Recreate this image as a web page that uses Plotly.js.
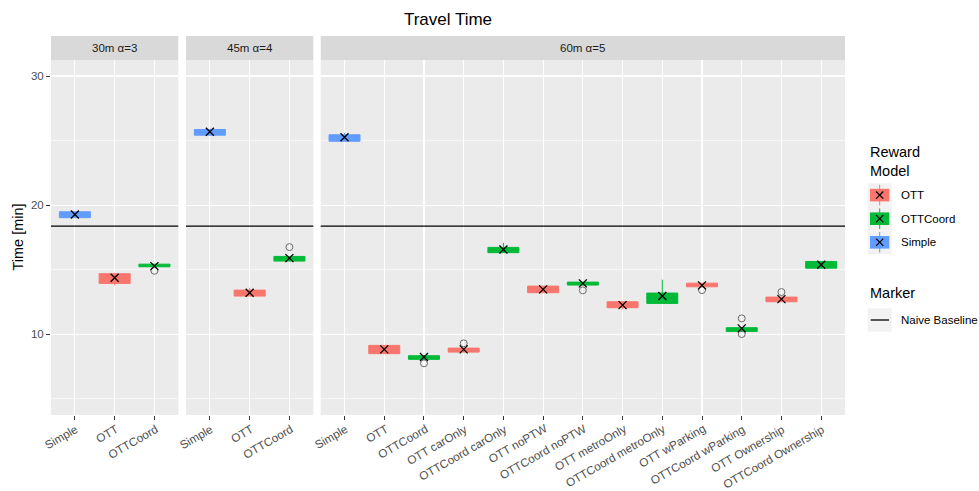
<!DOCTYPE html>
<html>
<head>
<meta charset="utf-8">
<script src="https://cdn.plot.ly/plotly-3.0.1.min.js"></script>
<style>
  html, body { margin: 0; padding: 0; background: #fff; }
  #chart { width: 979px; height: 491px; }
</style>
</head>
<body>
<div id="chart"></div>
<script>
// Facet labels and the categories shown in each facet
const facetLabels = ['30m α=3', '45m α=4', '60m α=5'];
const cats30 = ['Simple', 'OTT', 'OTTCoord'];
const cats45 = ['Simple', 'OTT', 'OTTCoord'];
const cats60 = ['Simple', 'OTT', 'OTTCoord', 'OTT carOnly', 'OTTCoord carOnly',
  'OTT noPTW', 'OTTCoord noPTW', 'OTT metroOnly', 'OTTCoord metroOnly',
  'OTT wParking', 'OTTCoord wParking', 'OTT Ownership', 'OTTCoord Ownership'];

// Box statistics (minutes), one entry per category
const lower30 = [19.03, 13.79, 15.23];
const q1_30   = [19.03, 13.94, 15.23];
const med30   = [19.28, 14.36, 15.30];
const q3_30   = [19.49, 14.69, 15.43];
const upper30 = [19.52, 14.77, 15.43];
const mean30  = [19.28, 14.38, 15.28];

const lower45 = [25.42, 12.96, 15.67];
const q1_45   = [25.42, 12.96, 15.67];
const med45   = [25.66, 13.20, 15.88];
const q3_45   = [25.86, 13.42, 16.03];
const upper45 = [25.92, 13.60, 16.03];
const mean45  = [25.68, 13.22, 15.90];

const lower60 = [24.95, 8.50, 8.06, 8.62, 16.32, 13.22, 13.81, 11.93, 12.39, 13.68, 10.22, 12.52, 15.12];
const q1_60   = [24.95, 8.50, 8.06, 8.62, 16.32, 13.22, 13.81, 12.06, 12.39, 13.68, 10.22, 12.52, 15.12];
const med60   = [25.24, 8.82, 8.22, 8.80, 16.55, 13.47, 13.93, 12.27, 12.90, 13.80, 10.40, 12.70, 15.38];
const q3_60   = [25.45, 9.14, 8.34, 8.93, 16.73, 13.73, 14.04, 12.52, 13.19, 13.96, 10.51, 12.88, 15.64];
const upper60 = [25.60, 9.14, 8.34, 8.93, 17.09, 13.73, 14.04, 12.52, 14.23, 13.96, 10.51, 12.88, 15.64];
const mean60  = [25.26, 8.83, 8.24, 8.83, 16.57, 13.48, 13.94, 12.26, 12.96, 13.79, 10.46, 12.72, 15.39];

// Outlying runs
const outX30 = ['OTTCoord'];
const outY30 = [14.92];
const outX45 = ['OTTCoord'];
const outY45 = [16.75];
const outX60 = ['OTTCoord', 'OTT carOnly', 'OTTCoord noPTW', 'OTT wParking',
  'OTTCoord wParking', 'OTTCoord wParking', 'OTT Ownership'];
const outY60 = [7.75, 9.30, 13.40, 13.42, 11.23, 10.02, 13.27];

// Naive baseline travel time
const naiveBaseline = 18.37;

const models = ['OTT', 'OTTCoord', 'Simple'];
const modelColors = { OTT: '#F8766D', OTTCoord: '#00BA38', Simple: '#619CFF' };

const FONT = 'Liberation Sans, Arial, sans-serif';
const W = 979, H = 491;
const px = x => x / W;
const py = y => 1 - y / H;

function modelOf(cat) {
  if (cat.startsWith('OTTCoord')) return 'OTTCoord';
  if (cat.startsWith('OTT')) return 'OTT';
  return 'Simple';
}

const facets = [
  { cats: cats30, lower: lower30, q1: q1_30, med: med30, q3: q3_30, upper: upper30, mean: mean30, ox: outX30, oy: outY30, xa: 'x', ya: 'y' },
  { cats: cats45, lower: lower45, q1: q1_45, med: med45, q3: q3_45, upper: upper45, mean: mean45, ox: outX45, oy: outY45, xa: 'x2', ya: 'y2' },
  { cats: cats60, lower: lower60, q1: q1_60, med: med60, q3: q3_60, upper: upper60, mean: mean60, ox: outX60, oy: outY60, xa: 'x3', ya: 'y3' }
];

const traces = [];
facets.forEach(f => {
  models.forEach(m => {
    const idx = f.cats.map((c, i) => i).filter(i => modelOf(f.cats[i]) === m);
    if (!idx.length) return;
    traces.push({
      type: 'box', xaxis: f.xa, yaxis: f.ya,
      x: idx.map(i => f.cats[i]),
      q1: idx.map(i => f.q1[i]),
      median: idx.map(i => f.med[i]),
      q3: idx.map(i => f.q3[i]),
      lowerfence: idx.map(i => f.lower[i]),
      upperfence: idx.map(i => f.upper[i]),
      boxpoints: false, width: 0.78, whiskerwidth: 0,
      fillcolor: modelColors[m],
      line: { color: modelColors[m], width: 1 },
      hoverinfo: 'skip', showlegend: false
    });
  });
  traces.push({
    type: 'scatter', mode: 'markers', xaxis: f.xa, yaxis: f.ya,
    x: f.ox, y: f.oy,
    marker: { symbol: 'circle-open', size: 7, color: '#6b6b6b', line: { width: 1 } },
    hoverinfo: 'skip', showlegend: false
  });
  traces.push({
    type: 'scatter', mode: 'markers', xaxis: f.xa, yaxis: f.ya,
    x: f.cats, y: f.mean,
    marker: { symbol: 'x-thin', size: 8, color: '#000', line: { width: 1.3, color: '#000' } },
    hoverinfo: 'skip', showlegend: false
  });
});

const yDomain = [py(415), py(60)];
const xDomains = [[px(51), px(178.3)], [px(186), px(313.3)], [px(320.7), px(845)]];

function xAxis(f, dom, anchor) {
  return {
    domain: dom, anchor: anchor, type: 'category',
    categoryorder: 'array', categoryarray: f.cats,
    range: [-0.6, f.cats.length - 0.4],
    showgrid: true, gridcolor: '#FFFFFF', gridwidth: 1.1,
    zeroline: false, showline: false,
    ticks: 'outside', ticklen: 4, tickwidth: 1, tickcolor: '#333333',
    showticklabels: false,
    automargin: false, fixedrange: true
  };
}
function yAxis(anchor, labels) {
  return {
    domain: yDomain, anchor: anchor,
    range: [3.75, 31.24], tick0: 0, dtick: 10,
    showgrid: true, gridcolor: '#FFFFFF', gridwidth: 1.1,
    minor: { tick0: 0, dtick: 5, showgrid: true, gridcolor: '#FFFFFF', gridwidth: 0.55 },
    zeroline: false, showline: false,
    ticks: labels ? 'outside' : '', ticklen: 4, tickwidth: 1, tickcolor: '#333333',
    showticklabels: labels,
    tickfont: { family: FONT, size: 11.5, color: '#4D4D4D' },
    automargin: false, fixedrange: true
  };
}

const shapes = [];
const annotations = [];

// Facet strips, slanted category labels and the naive baseline in each panel
facets.forEach((f, k) => {
  const xa = f.xa;
  shapes.push({
    type: 'rect', xref: xa + ' domain', yref: 'paper',
    x0: 0, x1: 1, y0: py(60), y1: py(36),
    fillcolor: '#D9D9D9', line: { width: 0 }, layer: 'below'
  });
  annotations.push({
    xref: xa + ' domain', yref: 'paper', x: 0.5, y: py(48),
    xanchor: 'center', yanchor: 'middle', showarrow: false,
    text: facetLabels[k], font: { family: FONT, size: 11.5, color: '#1A1A1A' }
  });
  shapes.push({
    type: 'line', xref: xa + ' domain', yref: f.ya,
    x0: 0, x1: 1, y0: naiveBaseline, y1: naiveBaseline,
    line: { color: '#000000', width: 1.3 }
  });
  f.cats.forEach(c => {
    annotations.push({
      xref: xa, yref: 'paper', x: c, y: py(419), xshift: 8,
      xanchor: 'right', yanchor: 'top', showarrow: false, textangle: -30,
      text: c, font: { family: FONT, size: 11.7, color: '#4D4D4D' }
    });
  });
});

// Y axis title
annotations.push({
  xref: 'paper', yref: 'paper', x: px(18), y: py(237.5),
  xanchor: 'center', yanchor: 'middle', showarrow: false, textangle: -90,
  text: 'Time [min]', font: { family: FONT, size: 14.5, color: '#000' }
});

// Legend: Reward Model
annotations.push({
  xref: 'paper', yref: 'paper', x: px(867.5), y: py(161),
  xanchor: 'left', yanchor: 'middle', showarrow: false, align: 'left',
  text: 'Reward<br>Model', font: { family: FONT, size: 14.5, color: '#000' }
});
const keyTop = 183.3, keyH = 23.6;
models.forEach((m, i) => {
  const t = keyTop + i * keyH, cy = t + keyH / 2, cx = 879.7;
  shapes.push({ type: 'rect', xref: 'paper', yref: 'paper',
    x0: px(867.7), x1: px(891.7), y0: py(t + keyH), y1: py(t),
    fillcolor: '#F2F2F2', line: { width: 0 } });
  shapes.push({ type: 'line', xref: 'paper', yref: 'paper',
    x0: px(cx), x1: px(cx), y0: py(t + 1.5), y1: py(t + keyH - 1.5),
    line: { color: modelColors[m], width: 1 } });
  shapes.push({ type: 'rect', xref: 'paper', yref: 'paper',
    x0: px(870), x1: px(889.3), y0: py(cy + 6.3), y1: py(cy - 6.3),
    fillcolor: modelColors[m], line: { width: 0 } });
  shapes.push({ type: 'line', xref: 'paper', yref: 'paper',
    x0: px(cx - 3.6), x1: px(cx + 3.6), y0: py(cy - 3.6), y1: py(cy + 3.6),
    line: { color: '#000', width: 1.2 } });
  shapes.push({ type: 'line', xref: 'paper', yref: 'paper',
    x0: px(cx - 3.6), x1: px(cx + 3.6), y0: py(cy + 3.6), y1: py(cy - 3.6),
    line: { color: '#000', width: 1.2 } });
  annotations.push({
    xref: 'paper', yref: 'paper', x: px(898.5), y: py(cy),
    xanchor: 'left', yanchor: 'middle', showarrow: false,
    text: m, font: { family: FONT, size: 11.5, color: '#000' }
  });
});

// Legend: Marker
annotations.push({
  xref: 'paper', yref: 'paper', x: px(867.5), y: py(293),
  xanchor: 'left', yanchor: 'middle', showarrow: false,
  text: 'Marker', font: { family: FONT, size: 14.5, color: '#000' }
});
shapes.push({ type: 'rect', xref: 'paper', yref: 'paper',
  x0: px(867.7), x1: px(891.7), y0: py(331.7), y1: py(308.3),
  fillcolor: '#F2F2F2', line: { width: 0 } });
shapes.push({ type: 'line', xref: 'paper', yref: 'paper',
  x0: px(870.7), x1: px(889), y0: py(320), y1: py(320),
  line: { color: '#000', width: 1.3 } });
annotations.push({
  xref: 'paper', yref: 'paper', x: px(898.5), y: py(320),
  xanchor: 'left', yanchor: 'middle', showarrow: false,
  text: 'Naive Baseline', font: { family: FONT, size: 11.5, color: '#000' }
});

const layout = {
  width: W, height: H,
  margin: { l: 0, r: 0, t: 0, b: 0 },
  paper_bgcolor: '#FFFFFF', plot_bgcolor: '#EBEBEB',
  font: { family: FONT },
  title: { text: 'Travel Time', x: px(448), xref: 'paper', xanchor: 'center',
    y: py(19), yref: 'container', yanchor: 'middle',
    font: { family: FONT, size: 17, color: '#000' } },
  boxmode: 'overlay',
  showlegend: false,
  xaxis: xAxis(facets[0], xDomains[0], 'y'),
  xaxis2: xAxis(facets[1], xDomains[1], 'y2'),
  xaxis3: xAxis(facets[2], xDomains[2], 'y3'),
  yaxis: yAxis('x', true),
  yaxis2: Object.assign(yAxis('x2', false), { matches: 'y' }),
  yaxis3: Object.assign(yAxis('x3', false), { matches: 'y' }),
  shapes: shapes,
  annotations: annotations
};

Plotly.newPlot('chart', traces, layout, { staticPlot: true, displayModeBar: false });
</script>
</body>
</html>
